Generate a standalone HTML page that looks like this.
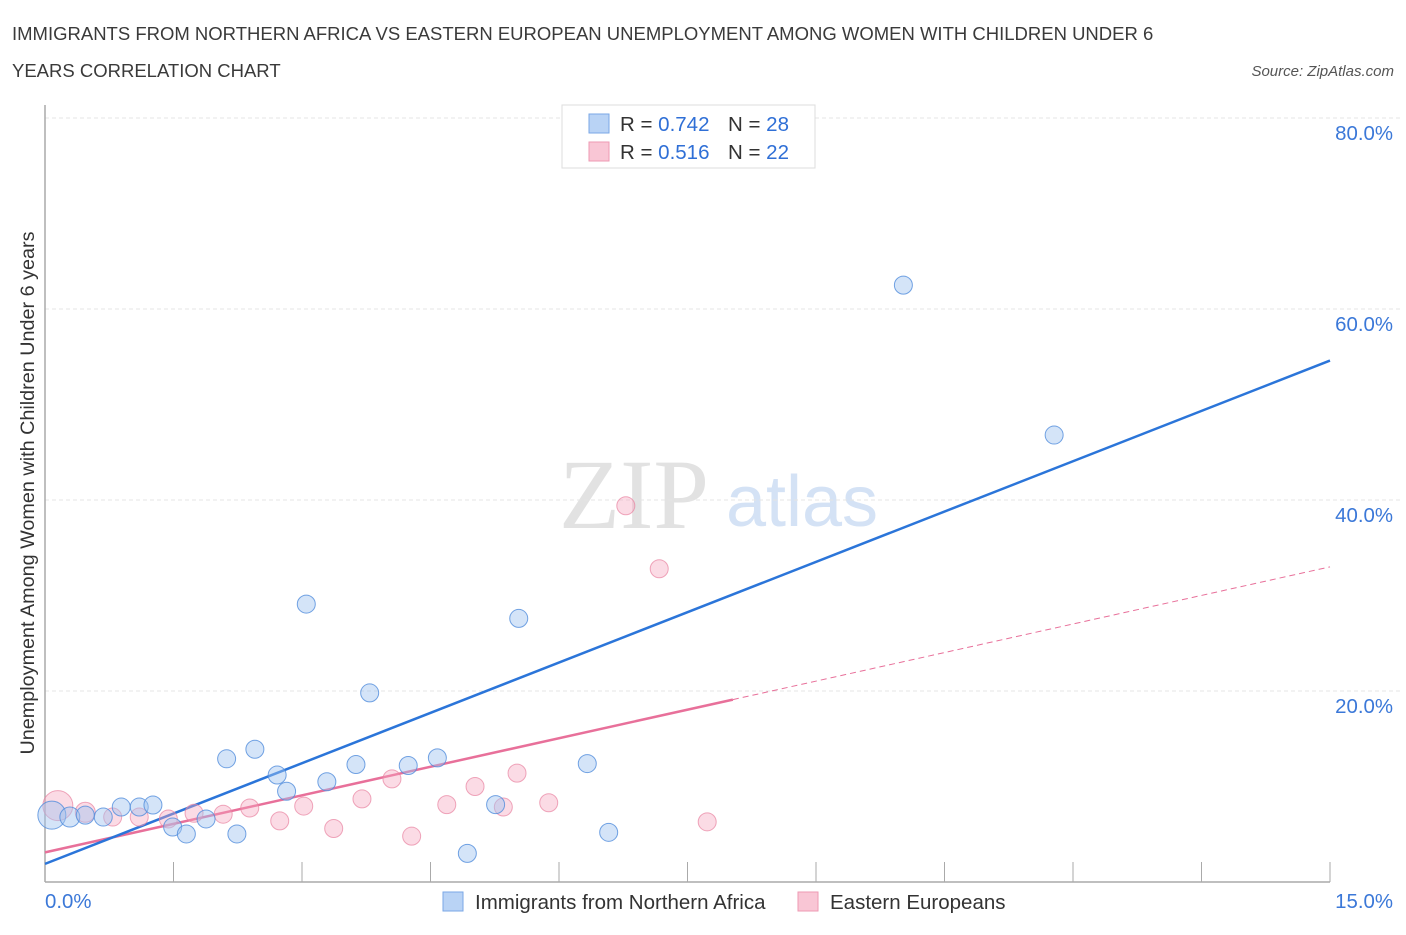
<!DOCTYPE html>
<html><head><meta charset="utf-8"><style>
body{margin:0;background:#fff;font-family:"Liberation Sans",sans-serif;}
</style></head><body>
<svg id="c" width="1406" height="930" xmlns="http://www.w3.org/2000/svg" font-family="Liberation Sans, sans-serif">
<text x="12" y="40" font-size="18.5" fill="#3a3a3a">IMMIGRANTS FROM NORTHERN AFRICA VS EASTERN EUROPEAN UNEMPLOYMENT AMONG WOMEN WITH CHILDREN UNDER 6</text>
<text x="12" y="77" font-size="18.5" fill="#3a3a3a">YEARS CORRELATION CHART</text>
<text x="1394" y="76" font-size="15" font-style="italic" fill="#555" text-anchor="end">Source: ZipAtlas.com</text>
<text x="634" y="528" font-size="100" style="font-family:'Liberation Serif',serif" fill="#e2e2e2" text-anchor="middle">ZIP</text>
<text x="802" y="526" font-size="72" fill="#d4e2f5" text-anchor="middle">atlas</text>
<g id="grid"></g>
<g id="axes"></g>
<g id="lines"></g>
<g id="pts"></g>
<text transform="translate(34,493) rotate(-90)" font-size="19.8" fill="#333" text-anchor="middle">Unemployment Among Women with Children Under 6 years</text>
<g>
<rect x="562" y="105" width="253" height="63" fill="#fff" stroke="#ddd"/>
<rect x="589" y="114" width="20" height="19" fill="#b9d3f5" stroke="#7aa7e6"/>
<rect x="589" y="142" width="20" height="19" fill="#f9c6d5" stroke="#ee9ab3"/>
<text x="620" y="131" font-size="20.5" fill="#333">R = <tspan fill="#2f6fd6">0.742</tspan></text>
<text x="728" y="131" font-size="20.5" fill="#333">N = <tspan fill="#2f6fd6">28</tspan></text>
<text x="620" y="159" font-size="20.5" fill="#333">R = <tspan fill="#2f6fd6">0.516</tspan></text>
<text x="728" y="159" font-size="20.5" fill="#333">N = <tspan fill="#2f6fd6">22</tspan></text>
</g>
<g>
<rect x="443" y="892" width="20" height="19" fill="#b9d3f5" stroke="#7aa7e6"/>
<text x="475" y="909" font-size="20.5" fill="#333">Immigrants from Northern Africa</text>
<rect x="798" y="892" width="20" height="19" fill="#f9c6d5" stroke="#ee9ab3"/>
<text x="830" y="909" font-size="20.5" fill="#333">Eastern Europeans</text>
</g>
</svg>
<script>
const yTicks=[20,40,60,80];
const yTickLabels=["20.0%","40.0%","60.0%","80.0%"];
const blueX=[0.08,0.29,0.47,0.68,0.89,1.10,1.26,1.49,1.65,1.88,2.12,2.24,2.45,2.71,2.82,3.05,3.29,3.63,3.79,4.24,4.58,4.93,5.26,5.53,6.33,6.58,10.02,11.78];
const blueY=[7.0,6.8,7.0,6.8,7.85,7.85,8.06,5.76,5.03,6.6,12.9,5.03,13.9,11.2,9.5,29.1,10.5,12.3,19.8,12.2,13.0,3.0,8.1,27.6,12.4,5.2,62.5,46.8];
const blueR=[14,10,9,9,9,9,9,9,9,9,9,9,9,9,9,9,9,9,9,9,9,9,9,9,9,9,9,9];
const pinkX=[0.15,0.47,0.79,1.10,1.44,1.74,2.08,2.39,2.74,3.02,3.37,3.70,4.05,4.28,4.69,5.02,5.35,5.51,5.88,6.78,7.17,7.73];
const pinkY=[8.0,7.3,6.8,6.8,6.6,7.2,7.1,7.75,6.4,7.95,5.6,8.7,10.8,4.8,8.1,10.0,7.85,11.4,8.3,39.4,32.8,6.3];
const pinkR=[15,10,9,9,9,9,9,9,9,9,9,9,9,9,9,9,9,9,9,9,9,9];
const blueLine=[0,1.9,15,54.6];
const pinkLine=[0,3.1,8.03,19.1,15,33.0];
const NS="http://www.w3.org/2000/svg";
const sx=v=>45+v/15*1285, sy=v=>882-v/20*191;
function mk(t,a,p){const e=document.createElementNS(NS,t);for(const k in a)e.setAttribute(k,a[k]);document.getElementById(p).appendChild(e);return e;}
yTicks.forEach((v,i)=>{
 const l=mk('line',{x1:45,x2:1400,y1:sy(v),y2:sy(v),stroke:'#e4e4e4','stroke-dasharray':'4,3'},'grid');
 
 
 const t=mk('text',{x:1393,y:sy(v)+22,'font-size':20.4,fill:'#3b78d8','text-anchor':'end'},'grid');t.textContent=yTickLabels[i];
 
 
});
let ax=mk('line',{x1:45,x2:1330,y1:882,y2:882,stroke:'#aaa','stroke-width':1.5},'axes');


ax=mk('line',{x1:45,x2:45,y1:105,y2:882,stroke:'#aaa','stroke-width':1.5},'axes');


for(let i=1;i<=10;i++){const tk=mk('line',{x1:sx(i*1.5),x2:sx(i*1.5),y1:862,y2:882,stroke:'#aaa'},'axes');
 
 }
let xl=mk('text',{x:45,y:908,'font-size':20.4,fill:'#3b78d8'},'axes');xl.textContent='0.0%';


xl=mk('text',{x:1393,y:908,'font-size':20.4,fill:'#3b78d8','text-anchor':'end'},'axes');xl.textContent='15.0%';


let ln=mk('line',{x1:sx(pinkLine[2]),y1:sy(pinkLine[3]),x2:sx(pinkLine[4]),y2:sy(pinkLine[5]),stroke:'#e8709a','stroke-width':1,'stroke-dasharray':'6,4'},'lines');


ln=mk('line',{x1:sx(pinkLine[0]),y1:sy(pinkLine[1]),x2:sx(pinkLine[2]),y2:sy(pinkLine[3]),stroke:'#e8709a','stroke-width':2.5},'lines');


ln=mk('line',{x1:sx(blueLine[0]),y1:sy(blueLine[1]),x2:sx(blueLine[2]),y2:sy(blueLine[3]),stroke:'#2b75d9','stroke-width':2.5},'lines');


pinkX.forEach((x,i)=>{const c=mk('circle',{cx:sx(x),cy:sy(pinkY[i]),r:pinkR[i],fill:'rgba(245,165,190,0.4)',stroke:'rgba(232,130,160,0.7)'},'pts');
 
 });
blueX.forEach((x,i)=>{const c=mk('circle',{cx:sx(x),cy:sy(blueY[i]),r:blueR[i],fill:'rgba(160,195,240,0.45)',stroke:'rgba(80,140,220,0.8)'},'pts');
 
 });
</script>
</body></html>
